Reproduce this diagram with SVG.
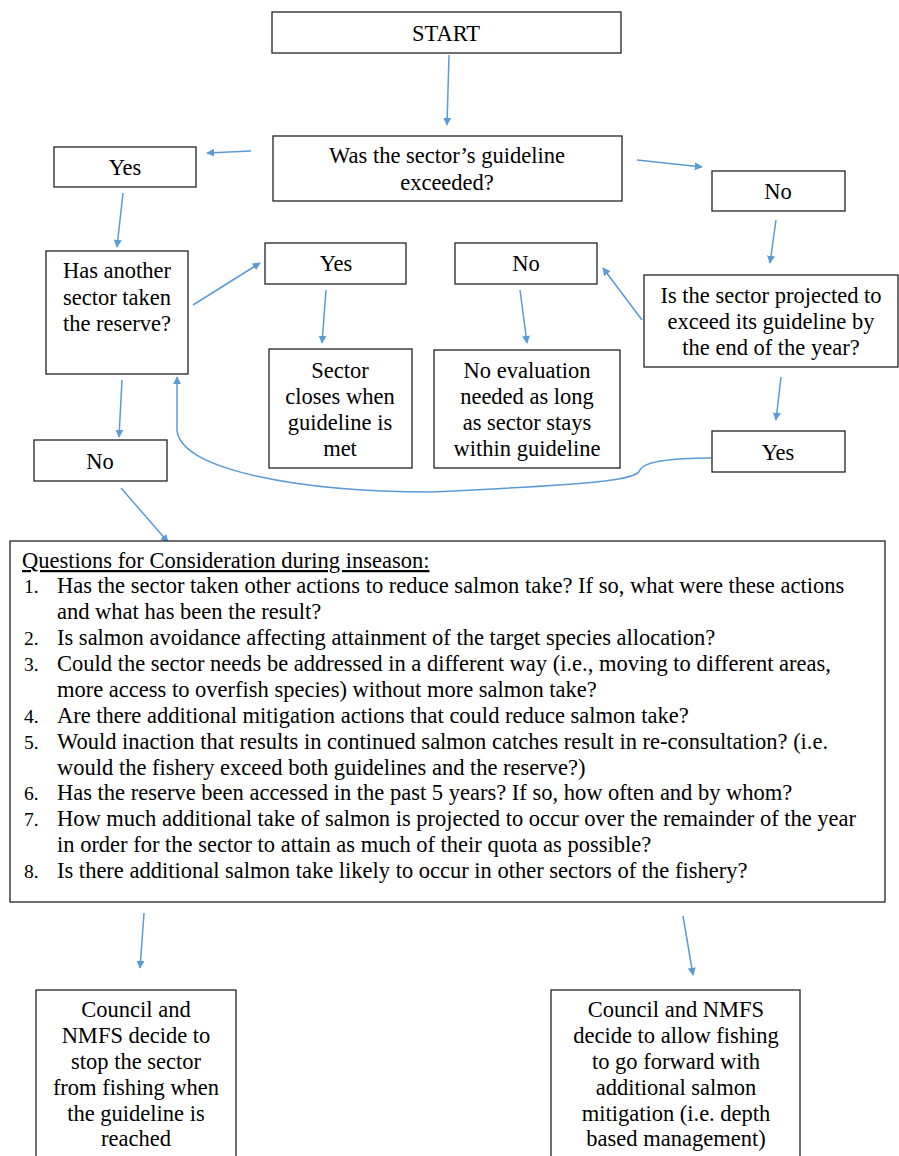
<svg xmlns="http://www.w3.org/2000/svg" width="899" height="1156" viewBox="0 0 899 1156">
<style>
.box{fill:#fff;stroke:#222;stroke-width:1.3}
text{font-family:"Liberation Serif","Times New Roman",serif;font-size:22.5px;fill:#000}
.c{text-anchor:middle}
.num{font-size:19.5px}
.cn{fill:none;stroke:#5B9BD5;stroke-width:1.5}
</style>
<defs>
<marker id="ah" viewBox="0 0 10 10" refX="9" refY="5" markerWidth="8" markerHeight="8" markerUnits="userSpaceOnUse" orient="auto">
<path d="M0,0 L10,5 L0,10 z" fill="#5B9BD5"/>
</marker>
</defs>
<rect width="899" height="1156" fill="#fff"/>
<g id="connectors">
<path class="cn" d="M449,55 L447,125" marker-end="url(#ah)"/>
<path class="cn" d="M251,151 L207,153" marker-end="url(#ah)"/>
<path class="cn" d="M637,160 L702,167" marker-end="url(#ah)"/>
<path class="cn" d="M123,193 L117,247" marker-end="url(#ah)"/>
<path class="cn" d="M193,305 L260,263" marker-end="url(#ah)"/>
<path class="cn" d="M326,290 L322,343" marker-end="url(#ah)"/>
<path class="cn" d="M520,290 L527,343" marker-end="url(#ah)"/>
<path class="cn" d="M776,220 L770,263" marker-end="url(#ah)"/>
<path class="cn" d="M642,320 L603,268" marker-end="url(#ah)"/>
<path class="cn" d="M781,377 L776,420" marker-end="url(#ah)"/>
<path class="cn" d="M711,458 C680,458 645,460 640,470 C637,480 600,484 432,492 C300,492 180,470 177,430 L177,377" marker-end="url(#ah)"/>
<path class="cn" d="M122,380 L119,437" marker-end="url(#ah)"/>
<path class="cn" d="M121,488 L168,542" marker-end="url(#ah)"/>
<path class="cn" d="M144,913 L140,968" marker-end="url(#ah)"/>
<path class="cn" d="M683,916 L693,975" marker-end="url(#ah)"/>
</g>
<g id="start"><rect class="box" x="272" y="12" width="349" height="41"/><text class="c" x="446" y="41">START</text></g>
<g id="q1"><rect class="box" x="273" y="136" width="349" height="65"/><text class="c" x="447" y="163">Was the sector’s guideline</text><text class="c" x="447" y="190">exceeded?</text></g>
<g id="yes1"><rect class="box" x="54" y="147" width="142" height="40"/><text class="c" x="125" y="175">Yes</text></g>
<g id="no1"><rect class="box" x="712" y="171" width="133" height="40"/><text class="c" x="778" y="199">No</text></g>
<g id="q2"><rect class="box" x="46" y="251" width="142" height="123"/><text class="c" x="117" y="278">Has another</text><text class="c" x="117" y="305">sector taken</text><text class="c" x="117" y="331">the reserve?</text></g>
<g id="yes2"><rect class="box" x="265" y="243" width="141" height="41"/><text class="c" x="336" y="271">Yes</text></g>
<g id="closes"><rect class="box" x="269" y="349" width="143" height="119"/><text class="c" x="340" y="378">Sector</text><text class="c" x="340" y="404">closes when</text><text class="c" x="340" y="430">guideline is</text><text class="c" x="340" y="456">met</text></g>
<g id="no2"><rect class="box" x="455" y="243" width="142" height="41"/><text class="c" x="526" y="271">No</text></g>
<g id="noeval"><rect class="box" x="434" y="350" width="186" height="118"/><text class="c" x="527" y="378">No evaluation</text><text class="c" x="527" y="404">needed as long</text><text class="c" x="527" y="430">as sector stays</text><text class="c" x="527" y="456">within guideline</text></g>
<g id="q3"><rect class="box" x="644" y="275" width="254" height="92"/><text class="c" x="771" y="303">Is the sector projected to</text><text class="c" x="771" y="329">exceed its guideline by</text><text class="c" x="771" y="355">the end of the year?</text></g>
<g id="yes3"><rect class="box" x="712" y="431" width="133" height="41"/><text class="c" x="778" y="460">Yes</text></g>
<g id="no3"><rect class="box" x="34" y="440" width="133" height="41"/><text class="c" x="100" y="469">No</text></g>
<g id="questions"><rect class="box" x="10" y="541" width="875" height="361"/>
<text x="22" y="568" text-decoration="underline">Questions for Consideration during inseason:</text>
<text class="num" x="24" y="593">1.</text><text x="57" y="593">Has the sector taken other actions to reduce salmon take? If so, what were these actions</text>
<text x="57" y="619">and what has been the result?</text>
<text class="num" x="24" y="645">2.</text><text x="57" y="645">Is salmon avoidance affecting attainment of the target species allocation?</text>
<text class="num" x="24" y="671">3.</text><text x="57" y="671">Could the sector needs be addressed in a different way (i.e., moving to different areas,</text>
<text x="57" y="697">more access to overfish species) without more salmon take?</text>
<text class="num" x="24" y="722.5">4.</text><text x="57" y="722.5">Are there additional mitigation actions that could reduce salmon take?</text>
<text class="num" x="24" y="748.5">5.</text><text x="57" y="748.5">Would inaction that results in continued salmon catches result in re-consultation? (i.e.</text>
<text x="57" y="774.5">would the fishery exceed both guidelines and the reserve?)</text>
<text class="num" x="24" y="800">6.</text><text x="57" y="800">Has the reserve been accessed in the past 5 years? If so, how often and by whom?</text>
<text class="num" x="24" y="826">7.</text><text x="57" y="826">How much additional take of salmon is projected to occur over the remainder of the year</text>
<text x="57" y="852">in order for the sector to attain as much of their quota as possible?</text>
<text class="num" x="24" y="878">8.</text><text x="57" y="878">Is there additional salmon take likely to occur in other sectors of the fishery?</text>
</g>
<g id="stop"><rect class="box" x="36" y="990" width="200" height="175"/><text class="c" x="136" y="1017">Council and</text><text class="c" x="136" y="1043">NMFS decide to</text><text class="c" x="136" y="1069">stop the sector</text><text class="c" x="136" y="1095">from fishing when</text><text class="c" x="136" y="1121">the guideline is</text><text class="c" x="136" y="1146">reached</text></g>
<g id="allow"><rect class="box" x="551" y="990" width="249" height="175"/><text class="c" x="676" y="1017">Council and NMFS</text><text class="c" x="676" y="1043">decide to allow fishing</text><text class="c" x="676" y="1069">to go forward with</text><text class="c" x="676" y="1095">additional salmon</text><text class="c" x="676" y="1121">mitigation (i.e. depth</text><text class="c" x="676" y="1146">based management)</text></g>
</svg>
